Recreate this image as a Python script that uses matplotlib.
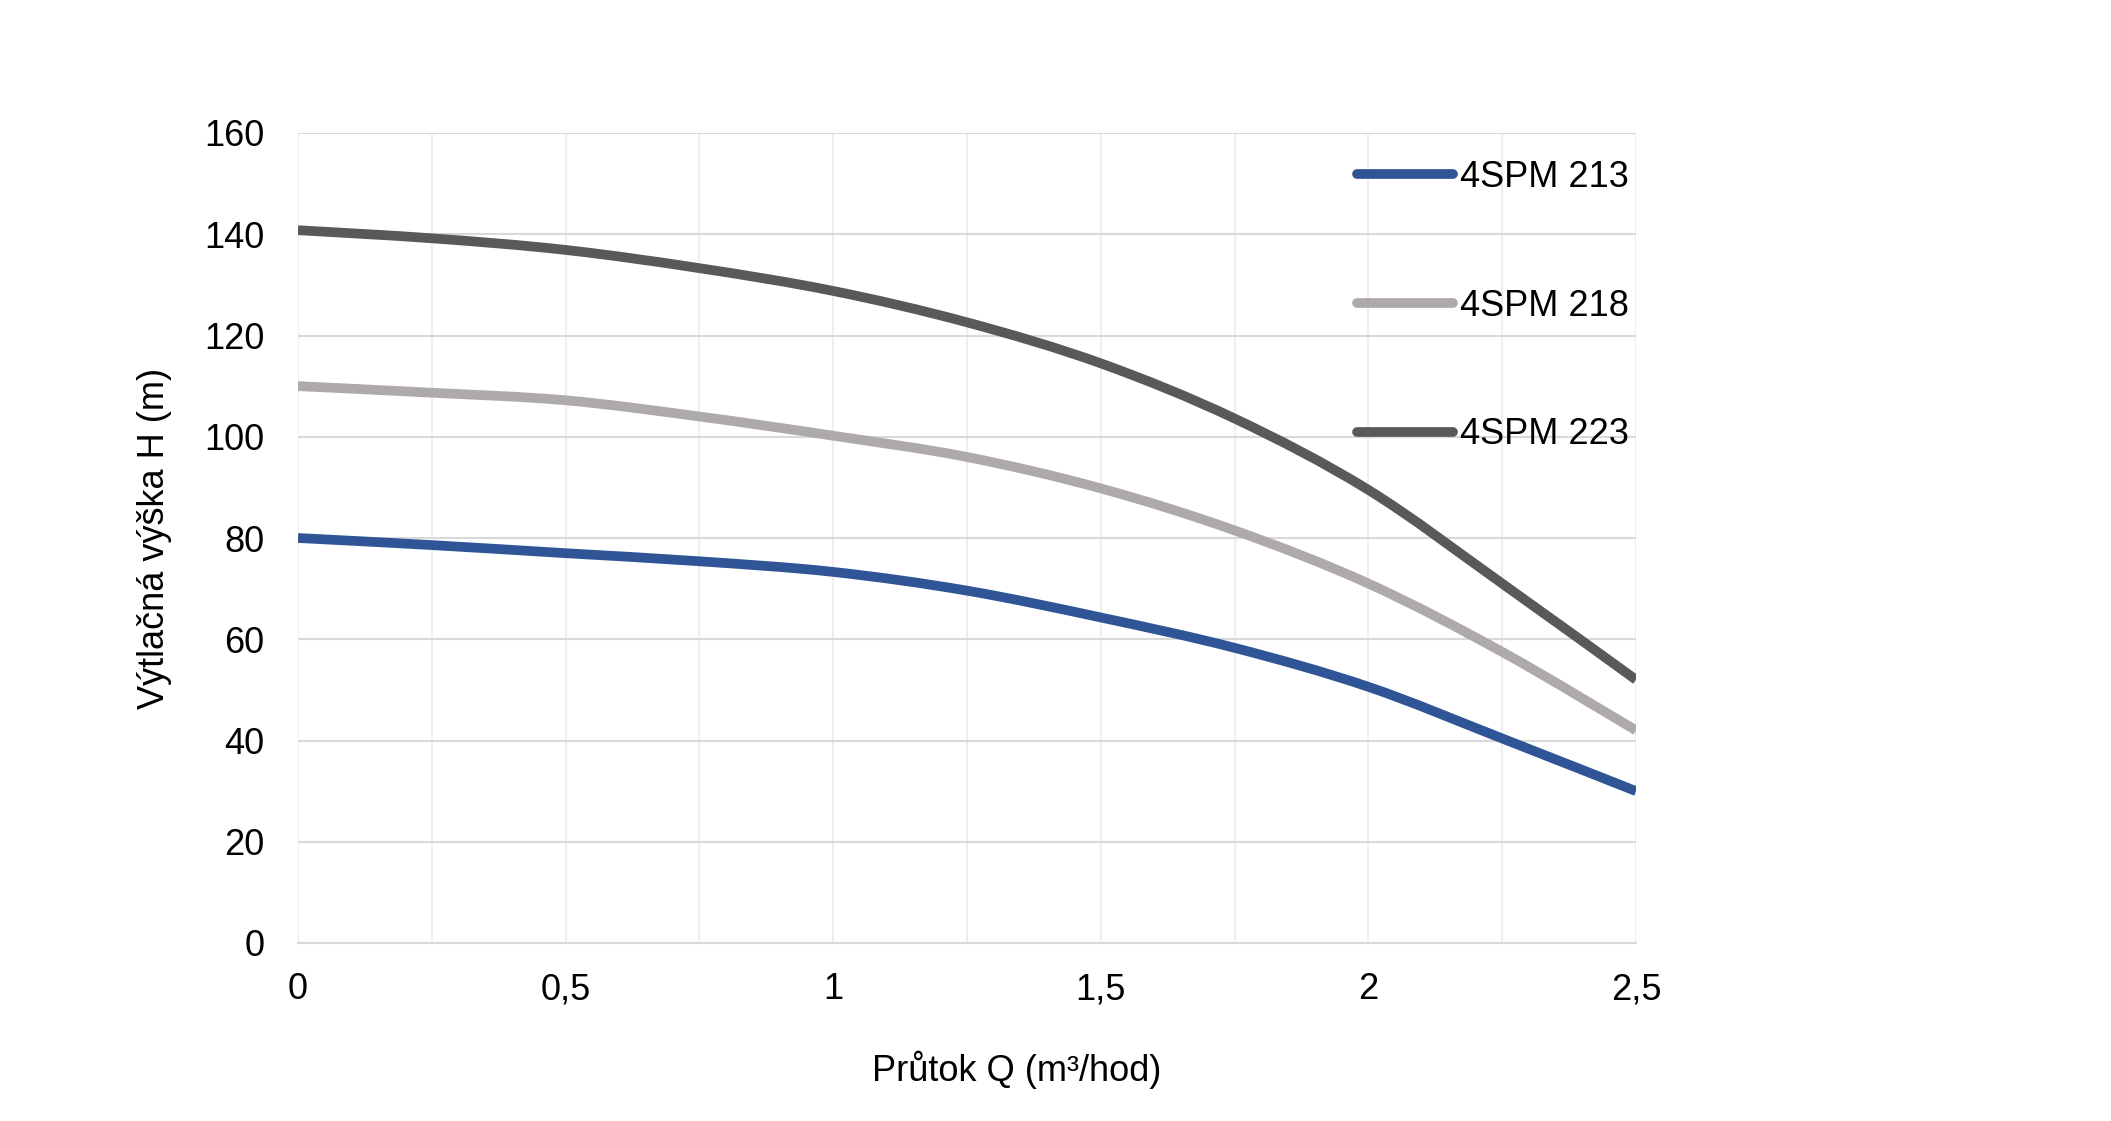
import matplotlib
matplotlib.use('Agg')
import matplotlib.pyplot as plt
from matplotlib.lines import Line2D
from matplotlib.path import Path
from matplotlib.patches import PathPatch
from matplotlib.ticker import MultipleLocator

plt.rcParams['font.family'] = ['Liberation Sans', 'DejaVu Sans']

# flow Q (m3/hod) and head H (m)
flow = [0, 0.25, 0.5, 0.75, 1.0, 1.25, 1.5, 1.75, 2.0, 2.25, 2.5]
head_213 = [80, 78.6, 77, 75.4, 73.3, 69.6, 64.3, 58.3, 50.6, 40.4, 30]
head_218 = [110, 108.7, 107.2, 104, 100.2, 96.0, 89.8, 81.5, 71, 57.5, 42]
head_223 = [140.8, 139.2, 136.9, 133.3, 128.8, 122.6, 114.5, 103.6, 89.5, 71, 52]

series_names = ['4SPM 213', '4SPM 218', '4SPM 223']
series_colors = ['#2F5597', '#AEAAAA', '#595959']

x_ticks = [0, 0.5, 1, 1.5, 2, 2.5]
x_tick_labels = ['0', '0,5', '1', '1,5', '2', '2,5']
y_ticks = [0, 20, 40, 60, 80, 100, 120, 140, 160]


def smooth_path(xs, ys):
  '''
  Builds a smoothed (Catmull-Rom style, like Excel's "smoothed line")
  bezier path going through every data point.
  '''
  verts = [(xs[0], ys[0])]
  codes = [Path.MOVETO]
  n = len(xs)
  for i in range(n - 1):
    x0, y0 = xs[max(i - 1, 0)], ys[max(i - 1, 0)]
    x1, y1 = xs[i], ys[i]
    x2, y2 = xs[i + 1], ys[i + 1]
    x3, y3 = xs[min(i + 2, n - 1)], ys[min(i + 2, n - 1)]
    c1 = (x1 + (x2 - x0) / 6.0, y1 + (y2 - y0) / 6.0)
    c2 = (x2 - (x3 - x1) / 6.0, y2 - (y3 - y1) / 6.0)
    verts += [c1, c2, (x2, y2)]
    codes += [Path.CURVE4] * 3
  return Path(verts, codes)


fig = plt.figure(figsize=(21.11, 11.21), dpi=100)
ax = fig.add_axes([298 / 2111, 1 - 943 / 1121, (1636 - 298) / 2111, (943 - 133) / 1121])

handles = []
for heads, name, col in zip([head_213, head_218, head_223], series_names, series_colors):
  patch = PathPatch(smooth_path(flow, heads), facecolor='none', edgecolor=col,
                    lw=7, capstyle='butt', joinstyle='round', zorder=3)
  ax.add_patch(patch)
  handles.append(Line2D([], [], color=col, lw=7, solid_capstyle='round', label=name))

ax.set_xlim(0, 2.5)
ax.set_ylim(0, 160)
ax.set_xticks(x_ticks)
ax.set_xticklabels(x_tick_labels)
ax.xaxis.set_minor_locator(MultipleLocator(0.25))
ax.set_yticks(y_ticks)

ax.grid(axis='y', which='major', color='#D9D9D9', lw=1.5, zorder=1)
ax.grid(axis='x', which='both', color='#EEEEEE', lw=1.5, zorder=0)
for side in ['top', 'right', 'left']:
  ax.spines[side].set_visible(False)
ax.spines['bottom'].set_color('#D9D9D9')
ax.spines['bottom'].set_linewidth(1.5)

ax.tick_params(axis='both', which='both', length=0, labelsize=26, colors='black')
ax.tick_params(axis='y', pad=24)
ax.tick_params(axis='x', pad=21)

ax.legend(handles=handles, loc='center left',
          bbox_to_anchor=(1357 / 2111, 1 - 306 / 1121),
          bbox_transform=fig.transFigure, frameon=False, fontsize=26,
          handlelength=2.67, handletextpad=0.17, labelspacing=2.6,
          borderpad=0, borderaxespad=0)

fig.text(155 / 2111, 1 - 538 / 1121, 'Výtlačná výška H (m)', rotation=90,
         ha='center', va='center', fontsize=26)
fig.text(1017 / 2111, 1 - 1070 / 1121, 'Průtok Q (m³/hod)',
         ha='center', va='center', fontsize=26)

fig.savefig('out.png', dpi=100, facecolor='white')
